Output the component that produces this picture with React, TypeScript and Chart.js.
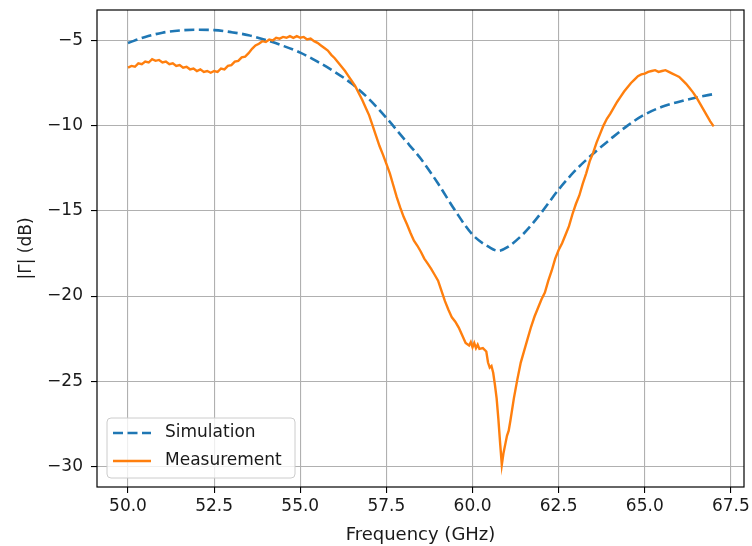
import React, { useEffect, useRef } from "react";
import { Chart, registerables } from "chart.js";

Chart.register(...registerables);

const xTicks = [50, 52.5, 55, 57.5, 60, 62.5, 65, 67.5];
const yTicks = [-30, -25, -20, -15, -10, -5];
const seriesNames = ["Simulation", "Measurement"];
const xTitle = "Frequency (GHz)";
const yTitle = "|Γ| (dB)";

const simFreq = [
  50, 50.5, 51, 51.5, 52, 52.5, 53, 53.5, 54, 54.5, 55, 55.5, 56, 56.5, 57, 57.5,
  58, 58.5, 59, 59.5, 60, 60.5, 60.75, 61, 61.5, 62, 62.5, 63, 63.5, 64, 64.5, 65,
  65.5, 66, 66.5, 67,
];
const simGamma = [
  -5.15, -4.8, -4.55, -4.42, -4.38, -4.4, -4.52, -4.7, -4.98, -5.32, -5.72, -6.25,
  -6.85, -7.55, -8.45, -9.55, -10.75, -11.95, -13.4, -15.0, -16.4, -17.15, -17.35,
  -17.15, -16.3, -15.1, -13.75, -12.6, -11.65, -10.8, -10.0, -9.35, -8.9, -8.6,
  -8.35, -8.15,
];

const measFreq = [
  50.0, 50.1, 50.2, 50.3, 50.4, 50.5, 50.6, 50.7, 50.8, 50.9,
  51.0, 51.1, 51.2, 51.3, 51.4, 51.5, 51.6, 51.7, 51.8, 51.9,
  52.0, 52.1, 52.2, 52.3, 52.4, 52.5, 52.6, 52.7, 52.8, 52.9,
  53.0, 53.1, 53.2, 53.3, 53.4, 53.5, 53.6, 53.7, 53.8, 53.9,
  54.0, 54.1, 54.2, 54.3, 54.4, 54.5, 54.6, 54.7, 54.8, 54.9,
  55.0, 55.1, 55.2, 55.3, 55.4, 55.5, 55.6, 55.7, 55.8, 55.9,
  56.0, 56.1, 56.2, 56.3, 56.4, 56.5, 56.6, 56.7, 56.8, 56.9,
  57.0, 57.1, 57.2, 57.3, 57.4, 57.5, 57.6, 57.7, 57.8, 57.9,
  58.0, 58.1, 58.2, 58.3, 58.4, 58.5, 58.6, 58.7, 58.8, 58.9,
  59.0, 59.1, 59.2, 59.3, 59.4, 59.5, 59.6, 59.7, 59.8, 59.9,
  59.95, 60.0, 60.05, 60.1, 60.15, 60.2, 60.3, 60.4, 60.45, 60.5,
  60.55, 60.6, 60.65, 60.7, 60.75, 60.8, 60.85, 60.9, 60.95, 61.0,
  61.05, 61.1, 61.2, 61.3, 61.4, 61.5, 61.6, 61.7, 61.8, 61.9,
  62.0, 62.1, 62.2, 62.3, 62.4, 62.5, 62.6, 62.7, 62.8, 62.9,
  63.0, 63.1, 63.2, 63.3, 63.4, 63.5, 63.6, 63.7, 63.8, 63.9,
  64.0, 64.1, 64.2, 64.3, 64.4, 64.5, 64.6, 64.7, 64.8, 64.9,
  65.0, 65.1, 65.2, 65.3, 65.4, 65.5, 65.6, 65.7, 65.8, 65.9,
  66.0, 66.1, 66.2, 66.3, 66.4, 66.5, 66.6, 66.7, 66.8, 66.9,
  67.0,
];
const measGamma = [
  -6.6, -6.5, -6.55, -6.35, -6.4, -6.25, -6.3, -6.1, -6.2, -6.15,
  -6.3, -6.25, -6.4, -6.35, -6.5, -6.45, -6.6, -6.55, -6.7, -6.65,
  -6.8, -6.7, -6.85, -6.8, -6.9, -6.8, -6.85, -6.65, -6.7, -6.5,
  -6.45, -6.25, -6.2, -6.0, -5.95, -5.75, -5.5, -5.3, -5.2, -5.05,
  -5.1, -4.95, -5.0, -4.85, -4.9, -4.8, -4.85, -4.75, -4.85, -4.75,
  -4.85, -4.8, -4.95, -4.9, -5.05, -5.15, -5.3, -5.45, -5.6, -5.85,
  -6.05, -6.3, -6.55, -6.8, -7.1, -7.4, -7.7, -8.1, -8.5, -8.95,
  -9.4, -10.0, -10.6, -11.2, -11.7, -12.25, -12.8, -13.5, -14.2, -14.8,
  -15.35, -15.8, -16.3, -16.75, -17.05, -17.4, -17.8, -18.1, -18.4, -18.75,
  -19.1, -19.7, -20.3, -20.8, -21.25, -21.5, -21.85, -22.3, -22.75, -22.9,
  -22.7, -23.0, -22.75, -23.05, -22.85, -23.1, -23.05, -23.25, -23.9, -24.2,
  -24.1, -24.5, -25.2, -26.0, -27.2, -28.6, -29.9, -29.2, -28.7, -28.2,
  -27.9, -27.3, -26.0, -24.9, -23.9, -23.2, -22.5, -21.8, -21.2, -20.7,
  -20.2, -19.8, -19.1, -18.5, -17.8, -17.3, -16.9, -16.4, -15.9, -15.2,
  -14.6, -14.1, -13.4, -12.8, -12.1, -11.6, -11.0, -10.5, -10.0, -9.6,
  -9.3, -8.95, -8.6, -8.3, -8.0, -7.75, -7.5, -7.3, -7.1, -7.0,
  -6.95, -6.85, -6.8, -6.75, -6.85, -6.8, -6.75, -6.85, -6.95, -7.05,
  -7.15, -7.35, -7.55, -7.8, -8.05, -8.35, -8.7, -9.05, -9.4, -9.75,
  -10.05,
];

const FONT = "'DejaVu Sans', sans-serif";
const FS = 17;
const TXT = "#1a1a1a";
const BLUE = "#1f77b4";
const ORANGE = "#ff7f0e";
const SIM_DASH = [10, 4.5];

const fmtY = (v: number) => (v < 0 ? "\u2212" + Math.abs(v) : String(v));

const framePlugin = {
  id: "frameAndLegend",
  afterDraw(chart: any) {
    const { ctx, chartArea } = chart;
    const { left, right, top, bottom } = chartArea;
    ctx.save();
    ctx.strokeStyle = "#000";
    ctx.lineWidth = 1.2;
    ctx.setLineDash([]);
    ctx.strokeRect(left, top, right - left, bottom - top);

    const bx = left + 10;
    const by = bottom - 69;
    const bw = 188;
    const bh = 60;
    const r = 4;
    ctx.beginPath();
    ctx.moveTo(bx + r, by);
    ctx.lineTo(bx + bw - r, by);
    ctx.quadraticCurveTo(bx + bw, by, bx + bw, by + r);
    ctx.lineTo(bx + bw, by + bh - r);
    ctx.quadraticCurveTo(bx + bw, by + bh, bx + bw - r, by + bh);
    ctx.lineTo(bx + r, by + bh);
    ctx.quadraticCurveTo(bx, by + bh, bx, by + bh - r);
    ctx.lineTo(bx, by + r);
    ctx.quadraticCurveTo(bx, by, bx + r, by);
    ctx.closePath();
    ctx.fillStyle = "rgba(255,255,255,0.8)";
    ctx.fill();
    ctx.strokeStyle = "#cccccc";
    ctx.lineWidth = 1;
    ctx.stroke();

    const items = chart.data.datasets;
    const rows = [by + 15, by + 43];
    items.forEach((ds: any, i: number) => {
      const y = rows[i];
      ctx.beginPath();
      ctx.strokeStyle = ds.borderColor;
      ctx.lineWidth = ds.borderWidth;
      ctx.setLineDash(ds.borderDash || []);
      ctx.moveTo(bx + 6, y);
      ctx.lineTo(bx + 44, y);
      ctx.stroke();
      ctx.setLineDash([]);
      ctx.fillStyle = TXT;
      ctx.font = `${FS}px ${FONT}`;
      ctx.textBaseline = "middle";
      ctx.textAlign = "left";
      ctx.fillText(ds.label, bx + 58, y);
    });
    ctx.restore();
  },
};

export default function App() {
  const ref = useRef<HTMLCanvasElement | null>(null);

  useEffect(() => {
    if (!ref.current) return;
    const simData = simFreq.map((f, i) => ({ x: f, y: simGamma[i] }));
    const measData = measFreq.map((f, i) => ({ x: f, y: measGamma[i] }));

    const chart = new Chart(ref.current, {
      type: "line",
      data: {
        datasets: [
          {
            label: seriesNames[0],
            data: simData,
            borderColor: BLUE,
            backgroundColor: BLUE,
            borderWidth: 2.6,
            borderDash: SIM_DASH,
            pointRadius: 0,
            cubicInterpolationMode: "monotone",
            fill: false,
            order: 2,
          },
          {
            label: seriesNames[1],
            data: measData,
            borderColor: ORANGE,
            backgroundColor: ORANGE,
            borderWidth: 2.4,
            pointRadius: 0,
            tension: 0,
            fill: false,
            order: 1,
          },
        ],
      },
      options: {
        animation: false,
        responsive: false,
        maintainAspectRatio: false,
        layout: { padding: { top: 10, right: 8, left: 0, bottom: 0 } },
        plugins: {
          legend: { display: false },
          tooltip: { enabled: false },
        },
        scales: {
          x: {
            type: "linear",
            min: 49.1,
            max: 67.88,
            afterBuildTicks: (s: any) => {
              s.ticks = xTicks.map((v) => ({ value: v }));
            },
            afterFit: (s: any) => {
              s.height = 59;
              s.paddingLeft = 0;
              s.paddingRight = 0;
            },
            grid: {
              color: "#b0b0b0",
              lineWidth: 1.1,
              tickColor: "#000",
              tickLength: 6,
              tickWidth: 1.1,
              drawTicks: true,
            },
            border: { display: false },
            ticks: {
              font: { family: FONT, size: FS },
              color: TXT,
              padding: 3,
              maxRotation: 0,
              autoSkip: false,
              callback: (v: any) => Number(v).toFixed(1),
            },
            title: {
              display: true,
              text: xTitle,
              font: { family: FONT, size: 18 },
              color: TXT,
              padding: { top: 0, bottom: 0 },
            },
          },
          y: {
            type: "linear",
            min: -31.2,
            max: -3.22,
            afterBuildTicks: (s: any) => {
              s.ticks = yTicks.map((v) => ({ value: v }));
            },
            afterFit: (s: any) => {
              s.width = 97;
              s.paddingTop = 0;
              s.paddingBottom = 0;
            },
            grid: {
              color: "#b0b0b0",
              lineWidth: 1.1,
              tickColor: "#000",
              tickLength: 6,
              tickWidth: 1.1,
              drawTicks: true,
            },
            border: { display: false },
            ticks: {
              font: { family: FONT, size: FS },
              color: TXT,
              padding: 8,
              autoSkip: false,
              callback: (v: any) => fmtY(Number(v)),
            },
            title: {
              display: true,
              text: yTitle,
              font: { family: FONT, size: FS },
              color: TXT,
              padding: { top: 16, bottom: 0 },
            },
          },
        },
      },
      plugins: [framePlugin],
    });
    return () => chart.destroy();
  }, []);

  return (
    <div
      style={{
        position: "fixed",
        left: 0,
        top: 0,
        width: 752,
        height: 546,
        background: "#fff",
      }}
    >
      <canvas ref={ref} width={752} height={546} style={{ width: 752, height: 546 }} />
    </div>
  );
}
